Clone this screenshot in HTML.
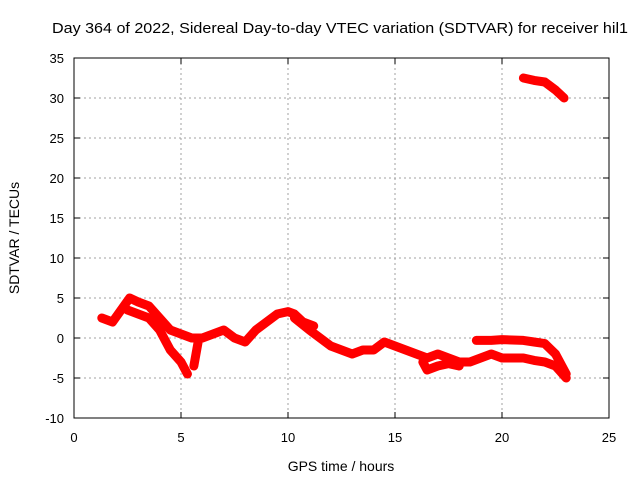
<!DOCTYPE html>
<html><head><meta charset="utf-8"><style>body{margin:0;background:#fff}svg{display:block;font-family:"Liberation Sans",sans-serif}</style></head>
<body>
<svg id="c" width="640" height="480"></svg>
<script>
const xTicks=[0,5,10,15,20,25];
const yTicks=[-10,-5,0,5,10,15,20,25,30,35];
const seriesUpperH=[1.3,1.8,2.2,2.6,3.0,3.5,4.0,4.5,5.0,5.5,6.0,6.5,7.0,7.5,8.0,8.5,9.0,9.5,10.0,10.3,10.7,11.2];
const seriesUpperV=[2.5,2,3.5,5,4.5,4,2.5,1,0.5,0,0,0.5,1,0,-0.5,1,2,3,3.3,3,2,1.5];
const seriesLowerH=[10.3,11,11.5,12,12.5,13,13.5,14,14.5,15,15.5,16,16.5,17,17.5,18,18.5,19,19.5,20,20.5,21,21.5,22,22.5,23];
const seriesLowerV=[2.5,1,0,-1,-1.5,-2,-1.5,-1.5,-0.5,-1,-1.5,-2,-2.5,-2,-2.5,-3,-3,-2.5,-2,-2.5,-2.5,-2.5,-2.8,-3,-3.5,-5];
const seriesDipH=[2.5,3,3.5,4,4.5,5,5.3];
const seriesDipV=[3.5,3,2.5,1,-1.5,-3,-4.5];
const seriesLateH=[18.8,19.5,20,21,21.5,22,22.5,23];
const seriesLateV=[-0.3,-0.3,-0.2,-0.3,-0.5,-0.7,-2,-4.5];
const seriesTopH=[21,21.5,22,22.5,22.9];
const seriesTopV=[32.5,32.2,32,31,30];
const seriesExtraH=[16.3,16.5,17,17.5,18];
const seriesExtraV=[-3,-4,-3.5,-3.2,-3.5];
const seriesSpurH=[5.8,5.6];
const seriesSpurV=[-0.5,-3.5];
const X=h=>74+h*535/25, Y=v=>338-v*8;
const s=document.getElementById('c'),NS='http://www.w3.org/2000/svg';
function el(t,a,txt){const e=document.createElementNS(NS,t);for(const k in a)e.setAttribute(k,a[k]);if(txt!==undefined)e.textContent=txt;s.appendChild(e);return e;}
xTicks.forEach(t=>{
 if(t>0&&t<25){const g=el('line',{x1:X(t),x2:X(t),y1:58,y2:418,stroke:'#a0a0a0','stroke-dasharray':'2,3'});
 
 }
 const l=el('text',{x:X(t),y:442,'text-anchor':'middle','font-size':13},t);
 
 
 el('line',{x1:X(t),x2:X(t),y1:418,y2:412,stroke:'#000'});el('line',{x1:X(t),x2:X(t),y1:58,y2:64,stroke:'#000'});
});
yTicks.forEach(t=>{
 if(t>-10&&t<35){const g=el('line',{x1:74,x2:609,y1:Y(t),y2:Y(t),stroke:'#a0a0a0','stroke-dasharray':'2,3'});
 
 }
 const l=el('text',{x:64,y:Y(t)+5,'text-anchor':'end','font-size':13},t);
 
 
 el('line',{x1:74,x2:80,y1:Y(t),y2:Y(t),stroke:'#000'});el('line',{x1:609,x2:603,y1:Y(t),y2:Y(t),stroke:'#000'});
});
const f=el('rect',{x:74,y:58,width:535,height:360,fill:'none',stroke:'#000'});


[[seriesUpperH,seriesUpperV],[seriesLowerH,seriesLowerV],[seriesDipH,seriesDipV],[seriesLateH,seriesLateV],[seriesTopH,seriesTopV],[seriesExtraH,seriesExtraV],[seriesSpurH,seriesSpurV]].forEach(([H,V])=>{
 const p=el('polyline',{points:H.map((h,i)=>X(h)+','+Y(V[i])).join(' '),fill:'none',stroke:'#ff0000','stroke-width':9,'stroke-linejoin':'round','stroke-linecap':'round'});
 
 
});
const t1=el('text',{x:52,y:33,'font-size':15,textLength:576,lengthAdjust:'spacingAndGlyphs'},'Day 364 of 2022, Sidereal Day-to-day VTEC variation (SDTVAR) for receiver hil1');


const t2=el('text',{x:341,y:471,'text-anchor':'middle','font-size':14},'GPS time / hours');


const t3=el('text',{x:19,y:238,'text-anchor':'middle','font-size':14,transform:'rotate(-90 19 238)'},'SDTVAR / TECUs');


</script>
</body></html>
